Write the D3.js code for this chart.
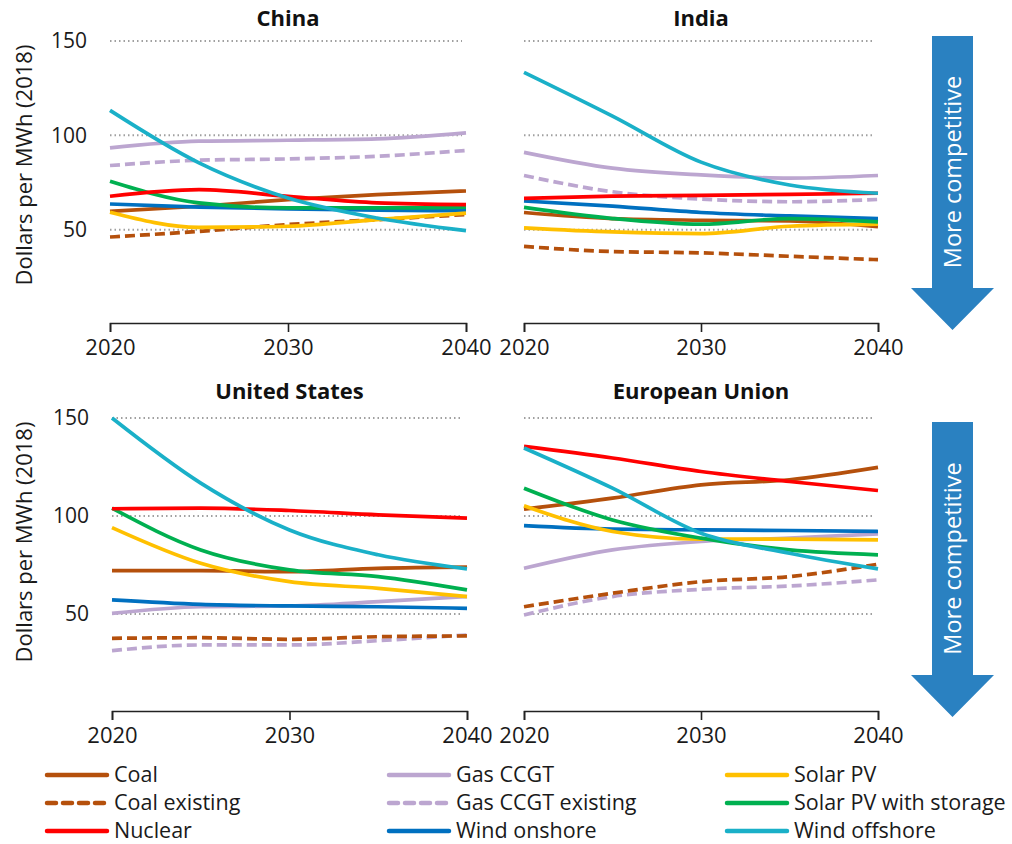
<!DOCTYPE html>
<html>
<head>
<meta charset="utf-8">
<script src="https://cdn.jsdelivr.net/npm/d3@7"></script>
<style>
  body { margin: 0; background: #fff; }
  svg { font-family: "Open Sans", sans-serif; }
</style>
</head>
<body>
<div id="chart"></div>
<script>
// years on the x axis, values every 5 years
const years = [2020, 2025, 2030, 2035, 2040];
const seriesNames = ["Coal", "Gas CCGT", "Solar PV", "Coal existing", "Gas CCGT existing",
    "Solar PV with storage", "Nuclear", "Wind onshore", "Wind offshore"];
const seriesColors = ["#b5500c", "#bca6d0", "#ffc000", "#b5500c", "#bca6d0",
    "#00b050", "#ff0000", "#0070c0", "#1ab0c8"];
const seriesDashed = [false, false, false, true, true, false, false, false, false];
const yTicks = [50, 100, 150];
const xTicks = [2020, 2030, 2040];

// values in series order above
const chinaValues = [
    [59.7, 62.4, 65.9, 68.6, 70.5],
    [93.4, 96.9, 97.4, 98.1, 101.3],
    [59.2, 51.2, 51.8, 55.3, 58.8],
    [46.1, 49.1, 52.7, 55.3, 58.0],
    [84.0, 86.8, 87.5, 88.9, 92.0],
    [75.7, 64.2, 61.5, 61.5, 62.0],
    [67.7, 71.2, 67.7, 64.2, 63.3],
    [63.6, 62.0, 61.0, 60.3, 60.1],
    [113.2, 85.4, 66.8, 56.2, 49.5]
];
const indiaValues = [
    [59.1, 55.9, 55.0, 54.6, 51.6],
    [91.0, 82.6, 79.0, 77.3, 78.7],
    [51.0, 48.8, 47.9, 51.8, 52.9],
    [41.1, 38.4, 37.7, 35.9, 34.1],
    [78.7, 70.1, 66.2, 64.8, 66.0],
    [61.8, 55.9, 52.9, 55.9, 54.1],
    [66.6, 67.8, 68.2, 68.7, 69.3],
    [65.2, 62.5, 59.1, 57.3, 55.9],
    [133.4, 110.2, 85.8, 73.7, 69.3]
];
const usValues = [
    [72.1, 72.1, 71.6, 73.3, 73.9],
    [50.3, 53.7, 54.1, 56.3, 58.9],
    [94.1, 75.9, 66.5, 63.1, 58.9],
    [37.6, 37.9, 37.1, 38.4, 38.8],
    [31.3, 34.2, 34.2, 36.4, 39.3],
    [104.0, 82.7, 72.5, 69.1, 62.3],
    [103.7, 104.0, 102.8, 100.6, 98.9],
    [57.2, 54.9, 54.1, 53.7, 52.9],
    [150.0, 116.8, 92.9, 80.2, 73.0]
];
const euValues = [
    [103.5, 109.1, 115.9, 118.5, 124.8],
    [73.3, 82.7, 87.0, 88.7, 90.9],
    [105.2, 92.1, 88.2, 88.2, 87.8],
    [53.7, 60.6, 66.5, 69.1, 75.4],
    [49.5, 58.9, 62.6, 64.3, 67.4],
    [114.2, 98.0, 88.7, 82.7, 80.2],
    [135.5, 129.6, 122.7, 117.6, 113.0],
    [95.1, 93.3, 92.9, 92.6, 92.1],
    [134.7, 114.2, 91.2, 81.0, 73.0]
];

// drawing order, back to front
const drawOrder = [4, 3, 1, 0, 7, 2, 5, 6, 8];

const width = 1012, height = 844;
const svg = d3.select("#chart").append("svg")
    .attr("width", width)
    .attr("height", height);

const panels = [
    { title: "China", values: chinaValues, x0: 110, x1: 466, yTop: 41, yBase: 324, left: true, titleY: 26 },
    { title: "India", values: indiaValues, x0: 524, x1: 878, yTop: 41, yBase: 324, left: false, titleY: 26 },
    { title: "United States", values: usValues, x0: 112, x1: 467, yTop: 418, yBase: 712, left: true, titleY: 399 },
    { title: "European Union", values: euValues, x0: 524, x1: 878, yTop: 418, yBase: 712, left: false, titleY: 399 }
];

panels.forEach(function(p) {
    const x = d3.scaleLinear().domain([2020, 2040]).range([p.x0, p.x1]);
    const y = d3.scaleLinear().domain([0, 150]).range([p.yBase, p.yTop]);
    const g = svg.append("g");

    // dotted grid lines
    g.selectAll(".grid")
        .data(yTicks)
        .enter().append("line")
        .attr("x1", x(2020))
        .attr("x2", x(2040) - 4)
        .attr("y1", function(d) { return y(d); })
        .attr("y2", function(d) { return y(d); })
        .attr("stroke", "#a0a0a0")
        .attr("stroke-width", 2)
        .attr("stroke-dasharray", "1.5,3");

    // x axis
    const xAxis = g.append("g")
        .attr("transform", "translate(0," + (p.yBase - 1) + ")")
        .call(d3.axisBottom(x).tickValues(xTicks).tickSize(9).tickPadding(7).tickFormat(d3.format("d")));
    xAxis.select(".domain").attr("stroke", "#222").attr("stroke-width", 1.6);
    xAxis.selectAll(".tick line").attr("stroke", "#222").attr("stroke-width", 1.6);
    xAxis.selectAll("text")
        .attr("fill", "#1a1a1a")
        .style("font-size", "22px")
        .style("font-family", "'Open Sans', sans-serif");

    // y axis labels, left panels only
    if (p.left) {
        const yAxis = g.append("g")
            .attr("transform", "translate(" + (p.x0 - 21) + ",0)")
            .call(d3.axisLeft(y).tickValues(yTicks).tickSize(0).tickPadding(2));
        yAxis.select(".domain").remove();
        yAxis.selectAll("text")
            .attr("fill", "#1a1a1a")
            .style("font-size", "21px")
            .style("font-family", "'Open Sans', sans-serif");

        g.append("text")
            .attr("transform", "translate(32," + (p.yTop + 124) + ") rotate(-90)")
            .style("text-anchor", "middle")
            .style("font-size", "22px")
            .attr("fill", "#1a1a1a")
            .text("Dollars per MWh (2018)");
    }

    // title
    g.append("text")
        .attr("x", (p.x0 + p.x1) / 2)
        .attr("y", p.titleY)
        .style("text-anchor", "middle")
        .style("font-size", "22px")
        .style("font-weight", "bold")
        .attr("fill", "#111")
        .text(p.title);

    // series lines
    const line = d3.line()
        .x(function(d, i) { return x(years[i]); })
        .y(function(d) { return y(d); })
        .curve(d3.curveMonotoneX);

    drawOrder.forEach(function(s) {
        g.append("path")
            .datum(p.values[s])
            .attr("d", line)
            .attr("fill", "none")
            .attr("stroke", seriesColors[s])
            .attr("stroke-width", 3.7)
            .attr("stroke-dasharray", seriesDashed[s] ? "10,5" : null);
    });
});

// "More competitive" arrows
[{ top: 36, bottom: 330 }, { top: 422, bottom: 717 }].forEach(function(a) {
    const cx = 952.5;
    const headTop = a.bottom - 42;
    svg.append("path")
        .attr("d", "M" + (cx - 20.5) + "," + a.top + "H" + (cx + 20.5) + "V" + headTop +
            "H" + (cx + 41.5) + "L" + cx + "," + a.bottom + "L" + (cx - 41.5) + "," + headTop +
            "H" + (cx - 20.5) + "Z")
        .attr("fill", "#2a81c1");
    svg.append("text")
        .attr("transform", "translate(" + (cx + 8.5) + "," + ((a.top + headTop) / 2 + 10) + ") rotate(-90)")
        .style("text-anchor", "middle")
        .style("font-size", "23.5px")
        .attr("fill", "#fff")
        .text("More competitive");
});

// legend, three entries per row
const legendCols = [45, 387, 725];
const legendRows = [775, 803, 831];
const legend = svg.append("g");
seriesNames.forEach(function(name, i) {
    const lx = legendCols[i % 3];
    const ly = legendRows[Math.floor(i / 3)];
    legend.append("line")
        .attr("x1", lx + 2)
        .attr("x2", lx + 62)
        .attr("y1", ly)
        .attr("y2", ly)
        .attr("stroke", seriesColors[i])
        .attr("stroke-width", 4.5)
        .attr("stroke-linecap", "round")
        .attr("stroke-dasharray", seriesDashed[i] ? "9,7" : null);
    legend.append("text")
        .attr("x", lx + 69)
        .attr("y", ly + 7)
        .style("font-size", "21.5px")
        .attr("fill", "#1a1a1a")
        .text(name);
});
</script>
</body>
</html>
